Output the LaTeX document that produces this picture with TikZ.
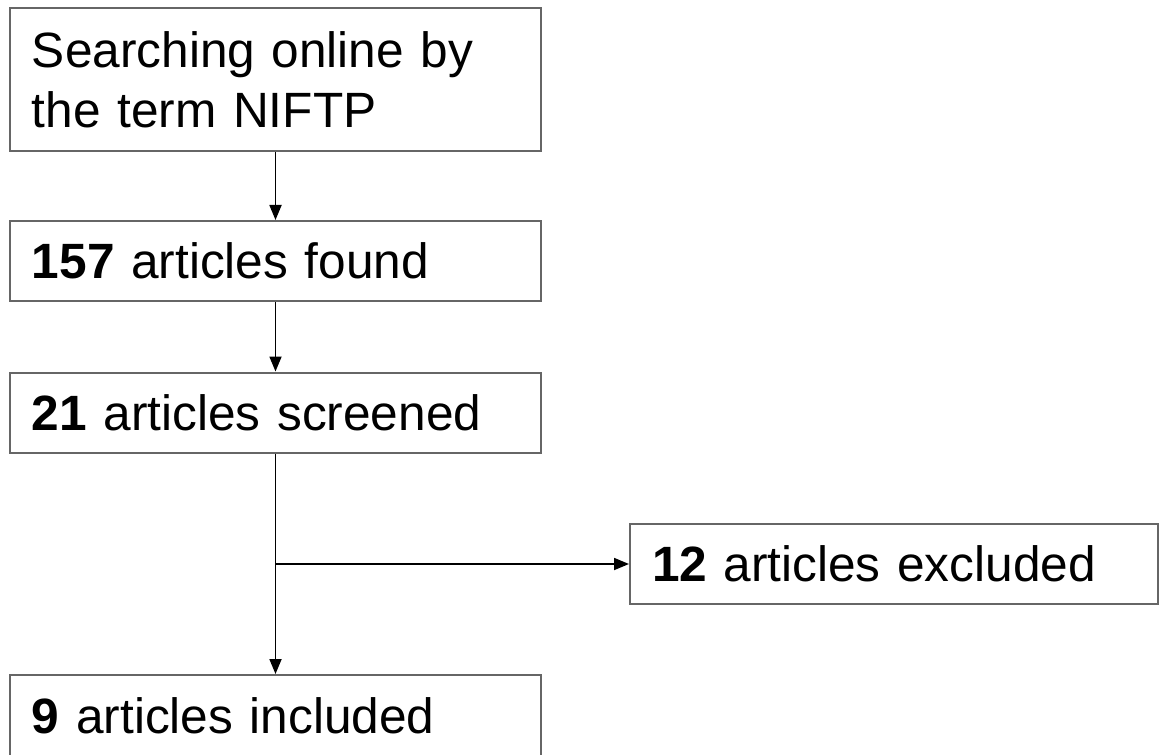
\documentclass[tikz,border=0pt]{standalone}
\usepackage{fontspec}
\setmainfont[WordSpace = 0.85]{Liberation Sans}
\usetikzlibrary{arrows.meta}
\usetikzlibrary{positioning}
\tikzset{stage/.style = {draw = black!60, line width = 1pt, rectangle, minimum width = 265.5pt, minimum height = 40pt, inner xsep = 11pt, text width = 243.5pt, align = left, font = \fontsize{24.8pt}{30pt}\selectfont}}
\tikzset{flow/.style = {line width = 0.9pt, -{Triangle[length = 7.5pt, width = 6pt]}}}

\begin{document}
\begin{tikzpicture}[x = 0.5pt, y = -0.5pt]
            \useasboundingbox (0,0) rectangle (1160,754);
            \node [stage, minimum height = 71.5pt] (search) at (275.5,79.5) {Searching online by\\the term NIFTP};
            \node [stage] (found) at (275.5,261) {\textbf{157} articles found};
            \node [stage] (screen) at (275.5,412.5) {\textbf{21} articles screened};
            \node [stage, minimum width = 264pt, text width = 242pt] (excl) at (894,564) {\textbf{12} articles excluded};
            \node [stage, minimum height = 41pt] (incl) at (275.5,716) {\textbf{9} articles included};
            \coordinate (split) at (screen.south |- excl.west);
            \draw [flow] (search) -- (found);
            \draw [flow] (found) -- (screen);
            \draw [flow] (screen) -- (incl);
            \draw [flow] (split) -- (excl);
            
        \end{tikzpicture}
\end{document}
